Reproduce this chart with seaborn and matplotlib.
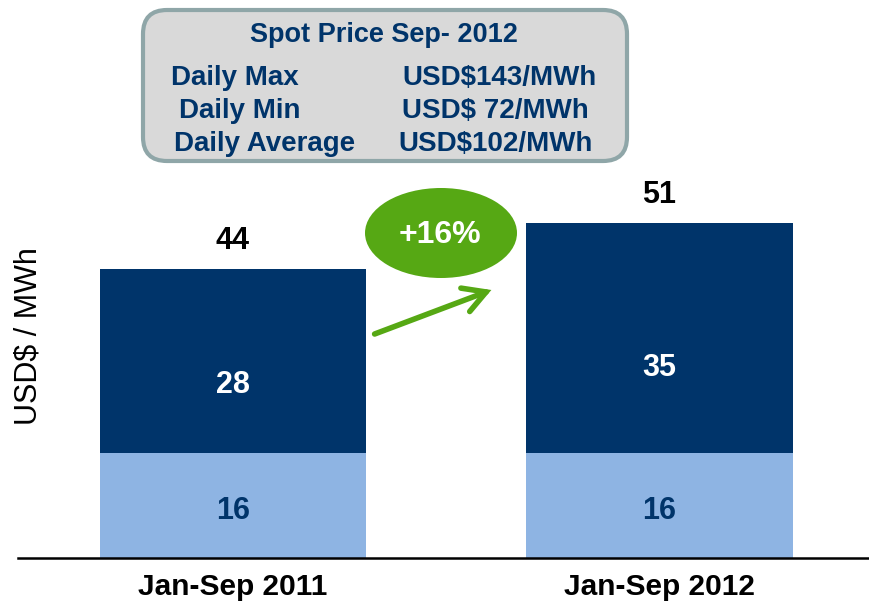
"""Spot price stacked bar chart, Jan-Sep 2011 vs 2012."""
import matplotlib
matplotlib.use("Agg")
import matplotlib.pyplot as plt
from matplotlib.patches import FancyBboxPatch, Ellipse, FancyArrowPatch
import pandas as pd
import seaborn as sns

periods = ["Jan-Sep 2011", "Jan-Sep 2012"]
base_values = [16, 16]
top_values = [28, 35]
change_label = "+16%"
box_title = "Spot Price Sep- 2012"
box_rows = ["Daily Max", "Daily Min", "Daily Average"]
box_prices = ["USD$143/MWh", "USD$ 72/MWh", "USD$102/MWh"]

NAVY = "#00346A"
LIGHT = "#8EB4E3"
GREEN = "#56A814"

sns.set_theme(style="white")
plt.rcParams["font.family"] = ["Liberation Sans", "DejaVu Sans"]

df = pd.DataFrame({"period": periods, "base": base_values, "top": top_values})
df["total"] = df["base"] + df["top"]

W, H = 869, 604
fig = plt.figure(figsize=(W / 100, H / 100), dpi=100)
ax = fig.add_axes([18 / W, 46 / H, 851 / W, 394 / H])

bw = 0.624
sns.barplot(data=df, x="period", y="total", color=NAVY, width=bw, saturation=1,
            ax=ax, linewidth=0)
sns.barplot(data=df, x="period", y="base", color=LIGHT, width=bw, saturation=1,
            ax=ax, linewidth=0)

ax.set_xlim(-0.504, 1.491)
ax.set_ylim(0, 60)
for i, row in df.iterrows():
    ax.text(i, row["base"] * 0.45, f"{row['base']}", ha="center", va="center",
            color=NAVY, fontsize=22, fontweight="bold")
    ax.text(i, row["base"] + row["top"] * 0.37, f"{row['top']}", ha="center",
            va="center", color="white", fontsize=22, fontweight="bold")
    ax.text(i, row["total"] + 4.3, f"{row['total']}", ha="center",
            va="center", color="black", fontsize=22, fontweight="bold")

for s in ["top", "right", "left"]:
    ax.spines[s].set_visible(False)
ax.spines["bottom"].set_color("black")
ax.spines["bottom"].set_linewidth(1.8)
ax.set_yticks([])
ax.tick_params(axis="x", length=0, pad=11)
ax.set_xticks([0, 1])
ax.set_xticklabels(periods, fontsize=21.5, fontweight="bold", color="black")
ax.set_xlabel("")
ax.set_ylabel("")
fig.text(29 / W, 1 - 336 / H, "USD$ / MWh", rotation=90, ha="center",
         va="center", fontsize=22, color="black")

# overlay in pixel coordinates for the annotation shapes
ov = fig.add_axes([0, 0, 1, 1], facecolor="none")
ov.set_xlim(0, W)
ov.set_ylim(H, 0)
ov.axis("off")

box = FancyBboxPatch((143, 10), 484, 151, boxstyle="round,pad=0,rounding_size=24",
                     facecolor="#D9D9D9", edgecolor="#8FA6A8", linewidth=3)
ov.add_patch(box)
ov.text(384, 42, box_title, ha="center", va="baseline", fontsize=19.5,
        fontweight="bold", color=NAVY)
row_y = [85, 118, 151]
left_x = [235, 240, 265]
right_x = [499, 495, 496]
for y, lx, rx, lab, price in zip(row_y, left_x, right_x, box_rows, box_prices):
    ov.text(lx, y, lab, ha="center", va="baseline", fontsize=20,
            fontweight="bold", color=NAVY)
    ov.text(rx, y, price, ha="center", va="baseline", fontsize=20,
            fontweight="bold", color=NAVY)

ov.add_patch(Ellipse((441, 233), 152, 90, facecolor=GREEN, edgecolor="none"))
ov.text(440, 235, change_label, ha="center", va="center", fontsize=23,
        fontweight="bold", color="white")
ov.add_patch(FancyArrowPatch((372, 335), (494, 289),
                             arrowstyle="->,head_length=0.8,head_width=0.45",
                             mutation_scale=20, color=GREEN, linewidth=4,
                             capstyle="round", joinstyle="miter"))

fig.savefig("out.png", dpi=100)
